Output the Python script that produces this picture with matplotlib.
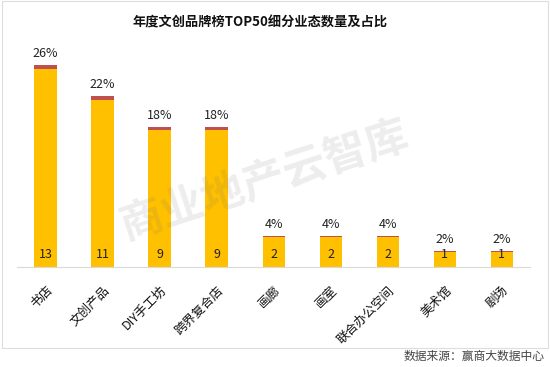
import matplotlib
matplotlib.use("Agg")
import matplotlib.pyplot as plt
from matplotlib.patches import Rectangle

plt.rcParams['font.family'] = ['Noto Sans CJK SC', 'DejaVu Sans']

categories = ["书店", "文创产品", "DIY手工坊", "跨界复合店", "画廊", "画室", "联合办公空间", "美术馆", "剧场"]
counts = [13, 11, 9, 9, 2, 2, 2, 1, 1]
shares = [0.26, 0.22, 0.18, 0.18, 0.04, 0.04, 0.04, 0.02, 0.02]
share_labels = ["26%", "22%", "18%", "18%", "4%", "4%", "4%", "2%", "2%"]
title = "年度文创品牌榜TOP50细分业态数量及占比"
source = "数据来源：赢商大数据中心"
watermark = "商业地产云智库"

fig = plt.figure(figsize=(5.5, 3.67), dpi=100)
fig.patch.set_facecolor("white")
ax = fig.add_axes([0.031, 0.2725, 0.933, 0.605])

x = list(range(len(categories)))
ax.bar(x, counts, width=0.39, color="#FFC000", zorder=2)
ax.bar(x, shares, bottom=counts, width=0.39, color="#C0504D", zorder=2)

for i, (c, s, lab) in enumerate(zip(counts, shares, share_labels)):
    ax.text(i, 0.8, str(c), ha="center", va="center", fontsize=9, color="#222222", zorder=3)
    ax.text(i, c + s + 0.35, lab, ha="center", va="bottom", fontsize=9, color="#222222", zorder=3)

ax.set_xlim(-0.5, len(categories) - 0.5)
ax.set_ylim(0, 14.6)
ax.set_yticks([])
ax.set_xticks(x)
ax.set_xticklabels(categories, rotation=45, ha="right", rotation_mode="anchor", fontsize=9, color="#111111")
ax.tick_params(axis="x", length=0, pad=12)
for sp in ["top", "right", "left"]:
    ax.spines[sp].set_visible(False)
ax.spines["bottom"].set_color("#d9d9d9")
ax.spines["bottom"].set_linewidth(0.8)
ax.set_facecolor("none")

fig.text(0.473, 0.94, title, ha="center", va="center", fontsize=9.5, fontweight="bold", color="#111111")
fig.text(0.99, 0.03, source, ha="right", va="center", fontsize=8.5, color="#444444")
fig.text(0.48, 0.51, watermark, ha="center", va="center", fontsize=31, fontweight="bold",
         color="#777777", alpha=0.13, rotation=18, zorder=5)

fig.patches.append(Rectangle((0.004, 0.052), 0.992, 0.944, transform=fig.transFigure,
                             fill=False, edgecolor="#dddddd", linewidth=0.8))

fig.savefig("out.png", dpi=100, facecolor="white")
